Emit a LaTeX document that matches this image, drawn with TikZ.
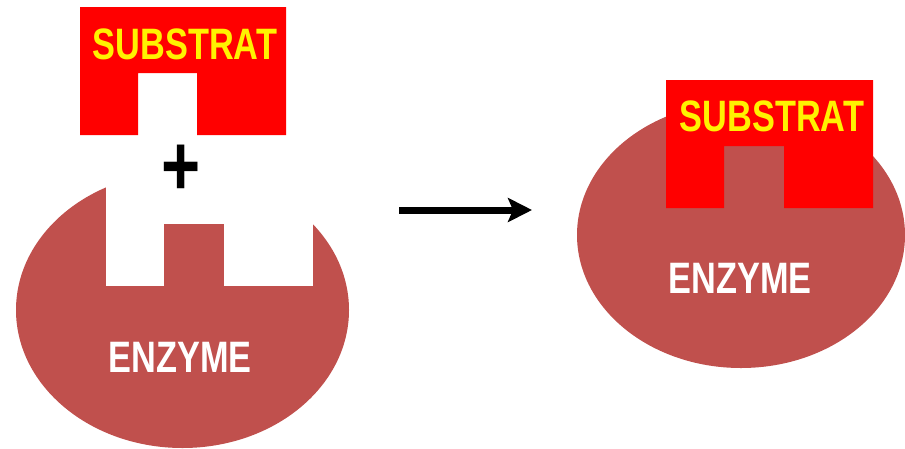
\documentclass[tikz,border=0pt]{standalone}
\usepackage{fontspec}
\usetikzlibrary{arrows.meta}
\newfontfamily\labelfont[FakeStretch=0.78]{Liberation Sans}
\definecolor{enzymered}{HTML}{C0504D}
\definecolor{substratred}{HTML}{FF0000}

\begin{document}
\begin{tikzpicture}[x=1pt, y=-1pt,
    enzyme/.style ={fill=enzymered},
    substrat/.style ={fill=substratred},
    substrattext/.style ={text=yellow, font=\labelfont\bfseries\fontsize{44}{44}\selectfont, inner sep=0pt},
    enzymetext/.style ={text=white, font=\labelfont\bfseries\fontsize{44}{44}\selectfont, inner sep=0pt}]
   \useasboundingbox (0,0) rectangle (905,448);
   % left: enzyme and substrate apart
   \fill[enzyme] (182.5,310) ellipse [x radius=166.5, y radius=138];
   \fill[white] (106,150) rectangle (313,286);
   \fill[enzyme] (164,224) rectangle (224,286);
   \fill[substrat] (80,7) -- (286,7) -- (286,135) -- (197,135) -- (197,73)
      -- (138,73) -- (138,135) -- (80,135) -- cycle;
   \node[substrattext] (S1) at (185,44) {SUBSTRAT};
   \node[enzymetext] (E1) at (180,357) {ENZYME};
   \node[font=\labelfont\bfseries\fontsize{86}{86}\selectfont, inner sep=0pt] (plus) at (181,170) {+};
   % right: the complex
   \fill[enzyme] (741,235) ellipse [x radius=164, y radius=133];
   \fill[substrat] (666,80) -- (873,80) -- (873,208) -- (784,208) -- (784,146)
      -- (724,146) -- (724,208) -- (666,208) -- cycle;
   \node[substrattext] (S2) at (772,116) {SUBSTRAT};
   \node[enzymetext] (E2) at (740,278) {ENZYME};
   % reaction arrow
   \coordinate (from) at (399,210);
   \coordinate (to) at (532,210);
   \draw[line width=7pt, -{Stealth[length=24pt, width=24pt, inset=5pt]}] (from) -- (to);
\end{tikzpicture}
\end{document}
